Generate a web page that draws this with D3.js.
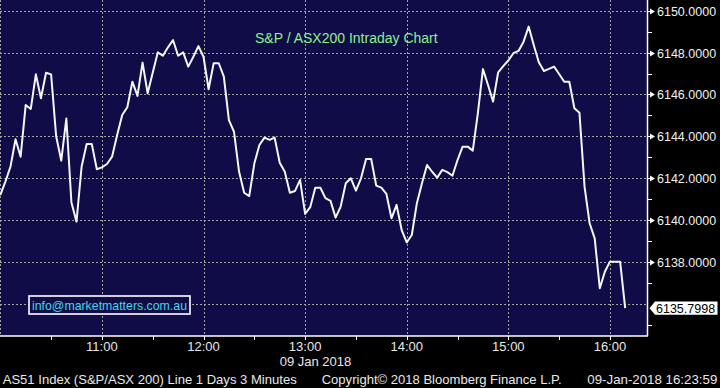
<!DOCTYPE html>
<html>
<head>
<meta charset="utf-8">
<script src="https://cdn.jsdelivr.net/npm/d3@7"></script>
<style>
  html, body { margin: 0; padding: 0; background: #000; }
  svg { display: block; }
  text { font-family: "Liberation Sans", Arial, sans-serif; }
</style>
</head>
<body>
<svg id="chart" width="720" height="388"></svg>
<script>
// 3 minute bars from 10:00, AS51 09 Jan 2018
let startTime = "10:00";
let barMinutes = 3;
let values = [
  6141.20, 6141.84, 6142.55, 6143.86, 6143.03, 6145.50, 6145.31, 6146.96, 6145.82, 6147.04,
  6146.96, 6143.99, 6142.84, 6144.85, 6140.84, 6139.93, 6142.55, 6143.64, 6143.64, 6142.43,
  6142.52, 6142.68, 6143.03, 6144.07, 6145.02, 6145.39, 6146.61, 6145.93, 6147.52, 6146.06,
  6147.04, 6148.01, 6147.85, 6148.25, 6148.60, 6147.85, 6148.01, 6147.33, 6147.80, 6148.31,
  6147.80, 6146.25, 6147.49, 6147.49, 6146.85, 6144.78, 6144.22, 6142.31, 6141.31, 6141.15,
  6142.70, 6143.59, 6143.94, 6143.83, 6143.94, 6142.74, 6142.31, 6141.31, 6141.39, 6141.92,
  6140.30, 6140.62, 6141.55, 6141.55, 6141.05, 6140.92, 6140.12, 6140.65, 6141.76, 6142.00,
  6141.41, 6142.00, 6142.92, 6142.92, 6141.65, 6141.55, 6141.25, 6140.09, 6140.73, 6139.53,
  6138.94, 6139.29, 6140.81, 6141.76, 6142.63, 6142.31, 6142.03, 6142.40, 6142.29, 6142.12,
  6142.87, 6143.51, 6143.51, 6143.32, 6145.10, 6147.21, 6146.45, 6145.66, 6147.06, 6147.35,
  6147.62, 6147.97, 6148.08, 6148.52, 6149.24, 6148.36, 6147.54, 6147.12, 6147.22, 6147.33,
  6146.98, 6146.61, 6146.61, 6145.34, 6145.13, 6141.60, 6139.85, 6139.13, 6136.75, 6137.54,
  6138.02, 6138.02, 6138.02, 6135.7998
];
let hourLabels = ["11:00", "12:00", "13:00", "14:00", "15:00", "16:00"];
let halfHourTicks = ["10:30", "11:00", "11:30", "12:00", "12:30", "13:00", "13:30",
  "14:00", "14:30", "15:00", "15:30", "16:00"];
let priceTicks = [6136, 6138, 6140, 6142, 6144, 6146, 6148, 6150];
let minorPriceTicks = [6135, 6137, 6139, 6141, 6143, 6145, 6147, 6149];
let gridTimes = ["10:00", "11:00", "12:00", "13:00", "14:00", "15:00", "16:00"];
let titleText = "S&P / ASX200 Intraday Chart";
let dateLabel = "09 Jan 2018";
let footerTexts = ["AS51 Index (S&P/ASX 200) Line 1 Days 3 Minutes",
  "Copyright\u00a9 2018 Bloomberg Finance L.P.", "09-Jan-2018 16:23:59"];
let emailText = "info@marketmatters.com.au";

let parseTime = d3.timeParse("%H:%M");
let t0 = parseTime(startTime);
let times = values.map((v, i) => d3.timeMinute.offset(t0, i * barMinutes));

let plot = { w: 647, h: 336 };
let svg = d3.select("#chart");

let x = d3.scaleTime()
  .domain([t0, parseTime("16:22")])
  .range([0.3, 647.2]);

let y = d3.scaleLinear()
  .domain([6134.47, 6150.51])
  .range([plot.h, 0]);

svg.append("rect")
  .attr("width", 720)
  .attr("height", 388)
  .attr("fill", "#000");

svg.append("rect")
  .attr("width", plot.w)
  .attr("height", plot.h)
  .attr("fill", "#100c48");

// grid
let grid = svg.append("g")
  .attr("stroke", "#a6a29a")
  .attr("stroke-width", 1)
  .attr("stroke-dasharray", "2,2");

grid.selectAll("line.h")
  .data(priceTicks)
  .enter()
  .append("line")
  .attr("class", "h")
  .attr("x1", 0)
  .attr("x2", plot.w)
  .attr("y1", d => Math.round(y(d)) + 0.5)
  .attr("y2", d => Math.round(y(d)) + 0.5);

grid.selectAll("line.v")
  .data(gridTimes)
  .enter()
  .append("line")
  .attr("class", "v")
  .attr("x1", d => Math.round(x(parseTime(d))) + 0.5)
  .attr("x2", d => Math.round(x(parseTime(d))) + 0.5)
  .attr("y1", 0)
  .attr("y2", plot.h);

// title
svg.append("text")
  .attr("x", 255)
  .attr("y", 43)
  .attr("fill", "#8cf08c")
  .attr("font-size", 14)
  .text(titleText);

// price line
let line = d3.line()
  .x((d, i) => x(times[i]))
  .y(d => y(d));

svg.append("path")
  .datum(values)
  .attr("d", line)
  .attr("fill", "none")
  .attr("stroke", "#f6f6f6")
  .attr("stroke-width", 2)
  .attr("stroke-linejoin", "round");

// email box
svg.append("rect")
  .attr("x", 29)
  .attr("y", 296)
  .attr("width", 161)
  .attr("height", 18)
  .attr("fill", "#100c48")
  .attr("stroke", "#fff")
  .attr("stroke-width", 1.6);

svg.append("text")
  .attr("x", 32)
  .attr("y", 310)
  .attr("fill", "#3fd8e4")
  .attr("font-size", 13)
  .attr("textLength", 155)
  .attr("lengthAdjust", "spacingAndGlyphs")
  .text(emailText);

// right axis
let lastValue = values[values.length - 1];
let axisR = svg.append("g").attr("transform", `translate(${plot.w}, 0)`);

axisR.append("line")
  .attr("x1", 0.5)
  .attr("x2", 0.5)
  .attr("y1", 0)
  .attr("y2", plot.h)
  .attr("stroke", "#fff")
  .attr("stroke-width", 1.5);

axisR.selectAll("line.minor")
  .data(minorPriceTicks)
  .enter()
  .append("line")
  .attr("class", "minor")
  .attr("x1", 0)
  .attr("x2", 5)
  .attr("y1", d => Math.round(y(d)) + 0.5)
  .attr("y2", d => Math.round(y(d)) + 0.5)
  .attr("stroke", "#fff");

let majors = axisR.selectAll("g.major")
  .data(priceTicks.filter(d => Math.abs(y(d) - y(lastValue)) > 10))
  .enter()
  .append("g")
  .attr("class", "major")
  .attr("transform", d => `translate(0, ${Math.round(y(d)) + 0.5})`);

majors.append("path")
  .attr("d", "M0,-0.5 L3,-0.5 L3,-3 L8,0 L3,3 L3,0.5 L0,0.5 Z")
  .attr("fill", "#fff");

majors.append("text")
  .attr("x", 10)
  .attr("dy", "0.36em")
  .attr("fill", "#f0f0f0")
  .attr("font-size", 12.5)
  .text(d => d3.format(".4f")(d));

// last value flag
let ly = y(lastValue);
svg.append("path")
  .attr("d", `M649.5,${ly} L655,${ly - 6.7} L717.5,${ly - 6.7} L717.5,${ly + 6.7} L655,${ly + 6.7} Z`)
  .attr("fill", "#fff");

svg.append("text")
  .attr("x", 656)
  .attr("y", ly)
  .attr("dy", "0.36em")
  .attr("fill", "#000")
  .attr("font-size", 12.5)
  .text(d3.format(".4f")(lastValue));

// bottom axis
let axisB = svg.append("g").attr("transform", `translate(0, ${plot.h})`);

axisB.append("line")
  .attr("x1", 0)
  .attr("x2", plot.w + 1)
  .attr("y1", 0)
  .attr("y2", 0)
  .attr("stroke", "#fff")
  .attr("stroke-width", 1.5);

axisB.selectAll("line.tick")
  .data(halfHourTicks)
  .enter()
  .append("line")
  .attr("class", "tick")
  .attr("x1", d => Math.round(x(parseTime(d))) + 0.5)
  .attr("x2", d => Math.round(x(parseTime(d))) + 0.5)
  .attr("y1", 0)
  .attr("y2", 4)
  .attr("stroke", "#fff");

axisB.selectAll("text.hour")
  .data(hourLabels)
  .enter()
  .append("text")
  .attr("class", "hour")
  .attr("x", d => x(parseTime(d)))
  .attr("y", 14.5)
  .attr("text-anchor", "middle")
  .attr("fill", "#e8e8e8")
  .attr("font-size", 13)
  .text(d => d);

svg.append("text")
  .attr("x", 315.5)
  .attr("y", 366)
  .attr("text-anchor", "middle")
  .attr("fill", "#e8e8e8")
  .attr("font-size", 13)
  .text(dateLabel);

// footer
let footerX = [2.7, 321.7, 587.3];
let footerW = [294, 240, 130];

svg.selectAll("text.footer")
  .data(footerTexts)
  .enter()
  .append("text")
  .attr("class", "footer")
  .attr("x", (d, i) => footerX[i])
  .attr("y", 384)
  .attr("fill", "#e8e8e8")
  .attr("font-size", 13)
  .attr("textLength", (d, i) => footerW[i])
  .attr("lengthAdjust", "spacingAndGlyphs")
  .text(d => d);
</script>
</body>
</html>
